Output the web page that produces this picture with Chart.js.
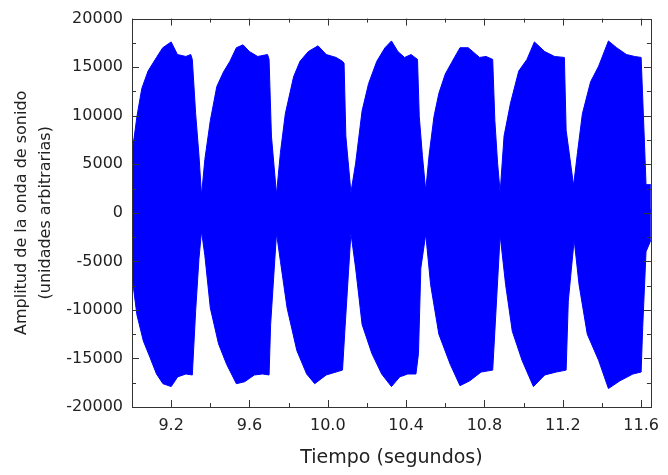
<!DOCTYPE html>
<html>
<head>
<meta charset="utf-8">
<script src="https://cdn.jsdelivr.net/npm/chart.js@4/dist/chart.umd.min.js"></script>
<style>
  html, body { margin: 0; padding: 0; background: #fff; }
  canvas { display: block; }
</style>
</head>
<body>
<canvas id="ondaChart" width="668" height="475"></canvas>
<script>
// Envolvente superior de la onda (tiempo en s, amplitud)
const tiempoSup = [9.000, 9.010, 9.025, 9.050, 9.082, 9.125, 9.157, 9.200, 9.232, 9.275, 9.300, 9.308, 9.325, 9.342, 9.355, 9.372,
  9.400, 9.433, 9.467, 9.500, 9.533, 9.567, 9.600, 9.642, 9.692, 9.700, 9.712, 9.738, 9.758,
  9.783, 9.825, 9.858, 9.900, 9.950, 9.992, 10.042, 10.075, 10.083, 10.092, 10.118, 10.142,
  10.175, 10.208, 10.250, 10.292, 10.325, 10.358, 10.392, 10.425, 10.458, 10.467, 10.483, 10.500, 10.517,
  10.542, 10.567, 10.600, 10.633, 10.675, 10.717, 10.775, 10.808, 10.842, 10.853, 10.867, 10.880, 10.900,
  10.933, 10.975, 11.017, 11.055, 11.108, 11.158, 11.208, 11.217, 11.255, 11.275,
  11.300, 11.342, 11.383, 11.433, 11.475, 11.525, 11.567, 11.600, 11.617, 11.625, 11.650];
const amplitudSup = [6200, 7600, 9900, 12800, 14600, 16000, 17000, 17600, 16300, 16100, 16300, 15800, 10200, 5900, 1800, 5500,
  9500, 13000, 14500, 15600, 17000, 17300, 16600, 16100, 16300, 15800, 7900, 1900, 6200,
  10200, 14000, 15600, 16600, 17200, 16300, 16000, 15600, 15400, 7900, 2100, 5100,
  10500, 13300, 15600, 17000, 17700, 16600, 16000, 16300, 15800, 9900, 5900, 2300, 5900,
  9900, 12300, 14300, 15500, 17000, 17000, 16000, 16100, 15800, 9500, 5100, 2100, 7900,
  11300, 14600, 15800, 17600, 16600, 16100, 16000, 8500, 2800, 6200,
  10200, 13500, 15100, 17700, 17000, 16300, 16100, 16000, 7200, 2900, 2900];

// Envolvente inferior de la onda
const tiempoInf = [9.000, 9.008, 9.025, 9.058, 9.092, 9.125, 9.158, 9.200, 9.233, 9.275, 9.308, 9.325, 9.342, 9.355, 9.372,
  9.400, 9.442, 9.483, 9.533, 9.575, 9.625, 9.667, 9.700, 9.708, 9.738, 9.758,
  9.792, 9.842, 9.892, 9.933, 9.992, 10.042, 10.075, 10.088, 10.118, 10.142,
  10.175, 10.225, 10.275, 10.325, 10.367, 10.408, 10.450, 10.463, 10.475, 10.500, 10.525,
  10.567, 10.625, 10.675, 10.725, 10.783, 10.842, 10.853, 10.880, 10.908,
  10.942, 10.992, 11.050, 11.108, 11.167, 11.217, 11.228, 11.258, 11.283,
  11.325, 11.383, 11.433, 11.492, 11.558, 11.600, 11.608, 11.625, 11.650];
const amplitudInf = [-6200, -7800, -10500, -13200, -14900, -16600, -17600, -17900, -16900, -16600, -16700, -10100, -4700, -1900, -4400,
  -9800, -13500, -15600, -17600, -17400, -16700, -16600, -16700, -11500, -2100, -5000,
  -9800, -14200, -16600, -17600, -16700, -16400, -16200, -11800, -2100, -5700,
  -11500, -14500, -16600, -17900, -16900, -16600, -16600, -14500, -5700, -2200, -7400,
  -12500, -15600, -17800, -17300, -16400, -16200, -12200, -2300, -7400,
  -12200, -15200, -17900, -16700, -16400, -16200, -9100, -2800, -7400,
  -12500, -15200, -18100, -17300, -16600, -16400, -11800, -4000, -2800];

// Marcas de los ejes
const xTicks = [9.2, 9.6, 10.0, 10.4, 10.8, 11.2, 11.6];
const xTicksMenores = [9.0, 9.4, 9.8, 10.2, 10.6, 11.0, 11.4];
const yTicks = [-20000, -15000, -10000, -5000, 0, 5000, 10000, 15000, 20000];
const yTicksMenores = [-17500, -12500, -7500, -2500, 2500, 7500, 12500, 17500];

const AZUL = "#0000ff";
const FUENTE = "'DejaVu Sans', sans-serif";

function puntos(ts, ys) {
  return ts.map((t, i) => ({ x: t, y: ys[i] }));
}

// Marco y marcas hacia adentro en los cuatro lados
const marcoPlugin = {
  id: "marco",
  afterDraw(chart) {
    const { ctx, chartArea: a, scales } = chart;
    const sx = scales.x, sy = scales.y;
    ctx.save();
    ctx.strokeStyle = "#333";
    ctx.lineWidth = 1;
    ctx.beginPath();
    const linea = (x1, y1, x2, y2) => { ctx.moveTo(x1, y1); ctx.lineTo(x2, y2); };
    const marcasX = (vals, len) => vals.forEach((v) => {
      const px = Math.round(sx.getPixelForValue(v)) + 0.5;
      if (px < a.left || px > a.right) return;
      linea(px, a.bottom, px, a.bottom - len);
      linea(px, a.top, px, a.top + len);
    });
    const marcasY = (vals, len) => vals.forEach((v) => {
      const py = Math.round(sy.getPixelForValue(v)) + 0.5;
      linea(a.left, py, a.left + len, py);
      linea(a.right, py, a.right - len, py);
    });
    marcasX(xTicks, 7);
    marcasX(xTicksMenores, 4);
    marcasY(yTicks, 7);
    marcasY(yTicksMenores, 4);
    ctx.stroke();
    ctx.strokeRect(Math.round(a.left) + 0.5, Math.round(a.top) + 0.5,
      Math.round(a.right - a.left), Math.round(a.bottom - a.top));
    ctx.restore();
  },
};

new Chart(document.getElementById("ondaChart"), {
  type: "line",
  data: {
    datasets: [
      {
        data: puntos(tiempoSup, amplitudSup),
        borderColor: AZUL,
        backgroundColor: AZUL,
        borderWidth: 1,
        fill: "origin",
        pointRadius: 0,
        tension: 0,
      },
      {
        data: puntos(tiempoInf, amplitudInf),
        borderColor: AZUL,
        backgroundColor: AZUL,
        borderWidth: 1,
        // se solapa un poco con el relleno superior para no dejar una raya en el cero
        fill: { value: 400 },
        pointRadius: 0,
        tension: 0,
      },
    ],
  },
  options: {
    responsive: false,
    animation: false,
    layout: { padding: { top: 10, right: 3, left: 0, bottom: 0 } },
    plugins: { legend: { display: false }, tooltip: { enabled: false } },
    scales: {
      x: {
        type: "linear",
        min: 9.0,
        max: 11.65,
        afterBuildTicks: (s) => { s.ticks = xTicks.map((v) => ({ value: v })); },
        afterFit: (s) => { s.height = 68; },
        grid: { display: false, drawTicks: false },
        border: { display: false },
        ticks: {
          color: "#222",
          font: { family: FUENTE, size: 16 },
          padding: 9,
          maxRotation: 0,
          callback: (v) => Number(v).toFixed(1),
        },
        title: {
          display: true,
          text: "Tiempo (segundos)",
          color: "#222",
          font: { family: FUENTE, size: 19 },
          padding: { top: 4, bottom: 6 },
        },
      },
      y: {
        min: -20000,
        max: 20000,
        afterBuildTicks: (s) => { s.ticks = yTicks.map((v) => ({ value: v })); },
        afterFit: (s) => { s.width = 132; },
        grid: { display: false, drawTicks: false },
        border: { display: false },
        ticks: {
          color: "#222",
          font: { family: FUENTE, size: 16 },
          padding: 9,
          callback: (v) => String(v),
        },
        title: {
          display: true,
          text: ["Amplitud de la onda de sonido", "(unidades arbitrarias)"],
          color: "#222",
          font: { family: FUENTE, size: 16, lineHeight: 1.5 },
          padding: { top: 10, bottom: 0 },
        },
      },
    },
  },
  plugins: [marcoPlugin],
});
</script>
</body>
</html>
